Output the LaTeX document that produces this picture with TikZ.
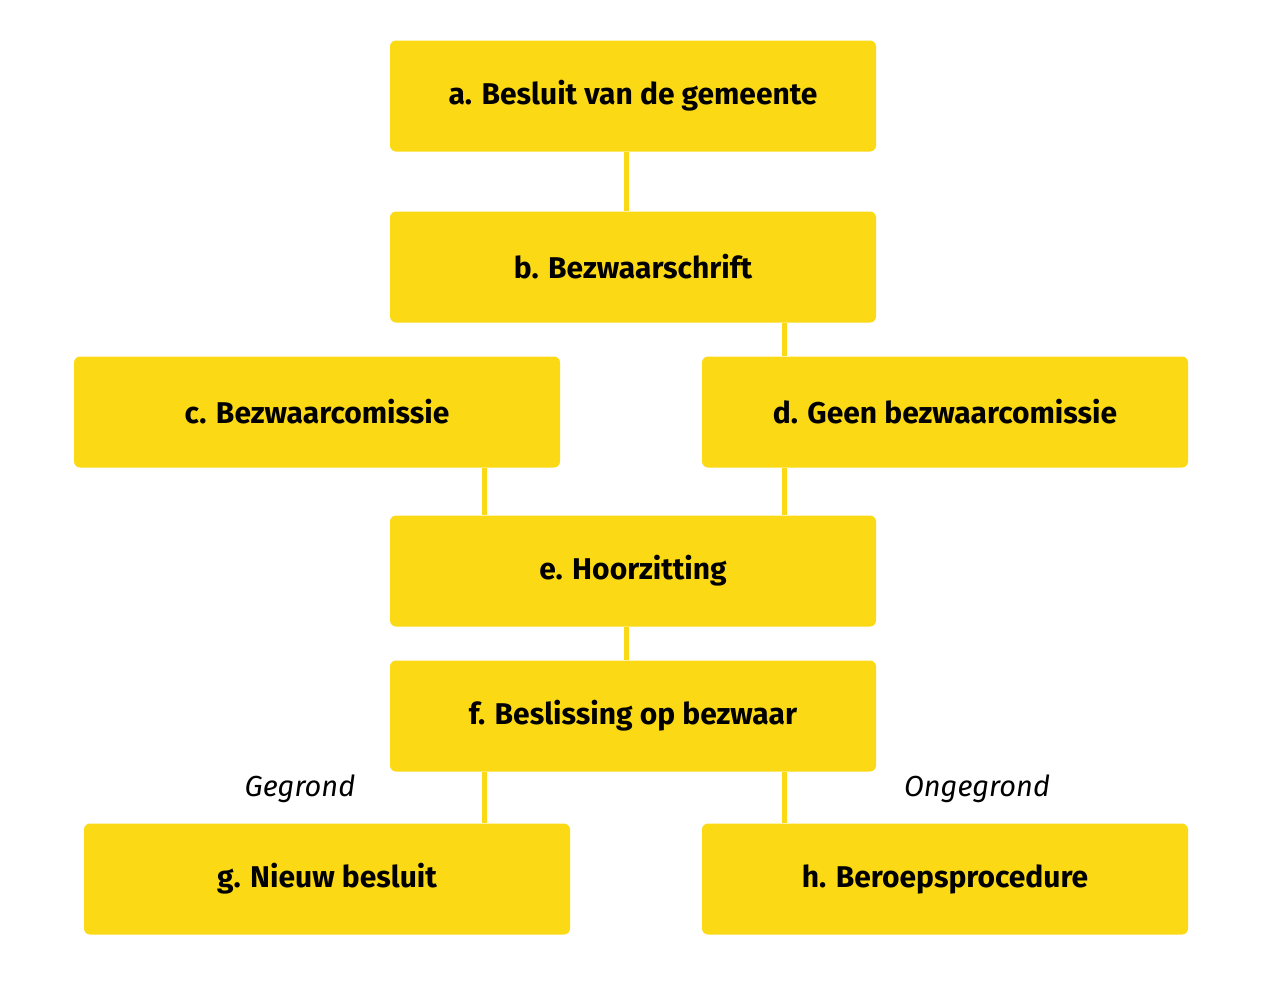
\documentclass[tikz,border=0pt]{standalone}
\usepackage{fontspec}
\setmainfont{Fira Sans}
\definecolor{geel}{HTML}{FBD914}
\tikzset{
  stap/.style={fill=geel, rounded corners=6pt, minimum width=486pt, minimum height=111pt,
    inner sep=0pt, font=\fontsize{30}{36}\selectfont\bfseries},
  lijn/.style={draw=geel, line width=5pt},
  uitkomst/.style={font=\fontsize{29}{34}\selectfont\itshape}
}
\begin{document}
\begin{tikzpicture}[x=1pt,y=-1pt]
\useasboundingbox (0,0) rectangle (1280,991);

% blokken
\node[stap] (a) at (633,96)  {a. Besluit van de gemeente};
\node[stap] (b) at (633,267) {b. Bezwaarschrift};
\node[stap] (c) at (317,412) {c. Bezwaarcomissie};
\node[stap] (d) at (945,412) {d. Geen bezwaarcomissie};
\node[stap] (e) at (633,571) {e. Hoorzitting};
\node[stap] (f) at (633,716) {f. Beslissing op bezwaar};
\node[stap] (g) at (327,879) {g. Nieuw besluit};
\node[stap] (h) at (945,879) {h. Beroepsprocedure};

% verbindingen
\draw[lijn] ([xshift=-7]a.south) -- ([xshift=-7]b.north);
\draw[lijn] ([xshift=-149]b.south) -- (b.south -| 484,0 |- c.north);
\draw[lijn] ([xshift=151]b.south) -- ([xshift=-161]d.north);
\draw[lijn] ([xshift=167]c.south) -- ([xshift=-149]e.north);
\draw[lijn] ([xshift=-161]d.south) -- ([xshift=151]e.north);
\draw[lijn] ([xshift=-7]e.south) -- ([xshift=-7]f.north);
\draw[lijn] ([xshift=-149]f.south) -- ([xshift=157]g.north);
\draw[lijn] ([xshift=151]f.south) -- ([xshift=-161]h.north);

% labels
\node[uitkomst] (gegrond) at (300,789) {Gegrond};
\node[uitkomst] (ongegrond) at (977,789) {Ongegrond};
\end{tikzpicture}
\end{document}
